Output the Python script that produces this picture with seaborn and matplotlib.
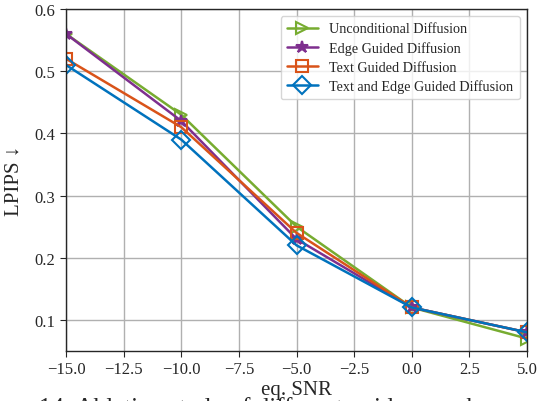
import numpy as np
import pandas as pd
import seaborn as sns
import matplotlib
matplotlib.use('Agg')
import matplotlib.pyplot as plt

# values
snr = [-15, -10, -5, 0, 5]
unconditional = [0.56, 0.43, 0.25, 0.12, 0.07]
edge_guided = [0.56, 0.42, 0.23, 0.12, 0.08]
text_guided = [0.52, 0.41, 0.24, 0.12, 0.08]
text_edge_guided = [0.51, 0.39, 0.22, 0.12, 0.08]
labels = ['Unconditional Diffusion', 'Edge Guided Diffusion',
          'Text Guided Diffusion', 'Text and Edge Guided Diffusion']

sns.set_style('ticks')
plt.rcParams['font.family'] = ['Liberation Serif', 'DejaVu Serif']

fig = plt.figure(figsize=(5.37, 4.02), dpi=100)
ax = fig.add_axes([66 / 537, 50 / 402, 461 / 537, 342 / 402])

styles = [
    ('#77AC30', '>', 'none'),
    ('#7E2F8E', '*', '#7E2F8E'),
    ('#D95319', 's', 'none'),
    ('#0072BD', 'D', 'none'),
]
series = [unconditional, edge_guided, text_guided, text_edge_guided]
for vals, lab, (col, mk, fc) in zip(series, labels, styles):
    df = pd.DataFrame({'snr': snr, 'lpips': vals})
    sns.lineplot(data=df, x='snr', y='lpips', ax=ax, color=col, marker=mk,
                 markerfacecolor=fc, markeredgecolor=col, markeredgewidth=1.5,
                 markersize=9, linewidth=1.8, label=lab)

ax.set_xlim(-15, 5)
ax.set_ylim(0.05, 0.6)
ax.set_xticks(np.arange(-15, 5.1, 2.5))
ax.set_yticks([0.1, 0.2, 0.3, 0.4, 0.5, 0.6])
ax.set_yticklabels(['0.1', '0.2', '0.3', '0.4', '0.5', '0.6'])
ax.grid(True, color='#b0b0b0', linewidth=1)
ax.tick_params(labelsize=12, direction='out', length=4)
for s in ax.spines.values():
    s.set_linewidth(1)
ax.set_xlabel('eq. SNR', fontsize=15, labelpad=2)
ax.set_ylabel('LPIPS ↓', fontsize=15, labelpad=8)
ax.legend(loc='upper right', fontsize=10.2, frameon=True, fancybox=True,
          framealpha=0.8, edgecolor='#cccccc', handlelength=2.2,
          borderpad=0.45, labelspacing=0.4)

# caption of the source figure, cut off by the page edge
fig.text(-0.062, -0.045, 'Figure 14: Ablation study of different guidance schemes',
         ha='left', va='bottom', fontsize=18)

fig.savefig('out.png', dpi=100)
